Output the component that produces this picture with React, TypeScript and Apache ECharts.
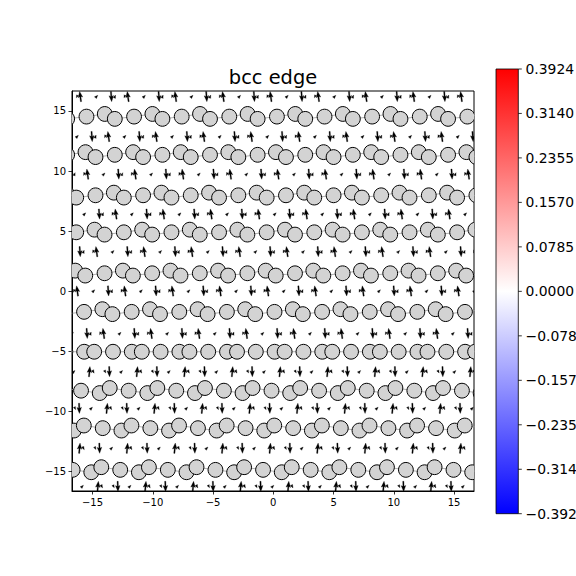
import React, { useEffect, useRef } from 'react';
import * as echarts from 'echarts';

// ---------- data ----------
const X_RANGE = [-16.7, 16.65];
const Y_RANGE = [-16.63, 16.66];
const AXIS_TICKS = [-15, -10, -5, 0, 5, 10, 15];
const TITLE = 'bcc edge';

// repeat distance of the atomic motif along x (lattice period)
const PERIOD = 3.95;

// atom rows: height of row, x of the lone ("single") atom of one motif, motif kind
const ROW_Y = [14.53, 11.35, 7.98, 4.9, 1.49, -1.72, -5.04, -8.28, -11.4, -14.87];
const ROW_X0 = [-7.6, -9.2, -10.8, -12.4, -14.0, -15.7, -13.3, -12.0, -10.2, -8.75];
const ROW_KIND = ['upper', 'upper', 'upper', 'upper', 'upper', 'upper', 'flat', 'lower', 'lower', 'lower'];
// basis of three atoms [dx, dy] per motif kind
const BASIS_UPPER = [[0, 0], [1.52, 0.22], [2.35, -0.19]];
const BASIS_FLAT = [[0, 0], [1.56, 0], [2.39, 0]];
const BASIS_LOWER = [[0, 0], [1.55, -0.2], [2.38, 0.22]];

// arrow rows (differential displacement vectors): height, x of the tiny arrow of one motif, motif kind
const ARROW_Y = [16.2, 12.87, 9.74, 6.42, 3.29, 0.02, -3.52, -6.7, -9.75, -13.07, -16.25];
const ARROW_X0 = [-6.76, -8.37, -10.11, -11.71, -13.31, -14.91, -8.78, -12.6, -11.15, -9.47, -7.95];
const ARROW_KIND = ['upper', 'upper', 'upper', 'upper', 'upper', 'upper', 'upper', 'lower', 'lower', 'lower', 'lower'];
// arrows of one motif: [dx, u, v]
const ARROWS_UPPER = [[0, 0.2, 0.2], [1.22, 0.06, -0.85], [1.52, 0.1, 0.25], [2.32, -0.1, -0.22], [2.6, -0.12, 0.85]];
const ARROWS_LOWER = [[0, 0.2, 0.2], [1.3, 0.08, 0.85], [1.62, 0.14, -0.24], [2.6, 0.12, -0.22], [2.95, 0.03, -0.85]];

// colour bar
const CB_TICKS = [0.3924, 0.314, 0.2355, 0.157, 0.0785, 0, -0.0785, -0.157, -0.2355, -0.314, -0.3924];
const CB_MIN = -0.3924;
const CB_MAX = 0.3924;

// ---------- build the lattice from rows + basis ----------
const BASIS: Record<string, number[][]> = { upper: BASIS_UPPER, flat: BASIS_FLAT, lower: BASIS_LOWER };
const ARROW_BASIS: Record<string, number[][]> = { upper: ARROWS_UPPER, lower: ARROWS_LOWER };

function cellRange(x0: number) {
  const k0 = Math.floor((X_RANGE[0] - 4 - x0) / PERIOD);
  const k1 = Math.ceil((X_RANGE[1] + 1 - x0) / PERIOD);
  return [k0, k1];
}

const atomRows: number[][][] = ROW_Y.map((y, i) => {
  const basis = BASIS[ROW_KIND[i]];
  const [k0, k1] = cellRange(ROW_X0[i]);
  const pts: number[][] = [];
  for (let k = k0; k <= k1; k++) {
    for (const [dx, dy] of basis) {
      const x = ROW_X0[i] + k * PERIOD + dx;
      if (x > X_RANGE[0] - 1.2 && x < X_RANGE[1] + 1.2) pts.push([x, y + dy]);
    }
  }
  return pts;
});

const arrowData: number[][] = [];
ARROW_Y.forEach((y, i) => {
  const basis = ARROW_BASIS[ARROW_KIND[i]];
  const [k0, k1] = cellRange(ARROW_X0[i]);
  for (let k = k0; k <= k1; k++) {
    for (const [dx, u, v] of basis) {
      const x = ARROW_X0[i] + k * PERIOD + dx;
      if (x > X_RANGE[0] - 0.5 && x < X_RANGE[1] + 0.5) arrowData.push([x, y, u, v]);
    }
  }
});

const fmtAxis = (v: number) => (v < 0 ? '\u2212' + Math.abs(v) : String(v));
const fmtCb = (v: number) => (v < 0 ? '\u2212' : '') + Math.abs(v).toFixed(4);

// ---------- layout ----------
const GRID = { left: 72, top: 91, width: 402, height: 400 };
const CB = { x: 496, y: 69, w: 22.3, h: 444.7 };
const FONT = 'DejaVu Sans';

function buildOption() {
  const lineSeries = atomRows.map((pts) => ({
    type: 'line',
    data: pts,
    symbol: 'none',
    silent: true,
    z: 1,
    clip: true,
    lineStyle: { color: '#9a9a9a', width: 0.8 },
  }));

  const atomSeries = {
    type: 'custom',
    z: 3,
    clip: true,
    silent: true,
    data: atomRows.flat(),
    renderItem: (_p: any, api: any) => {
      const c = api.coord([api.value(0), api.value(1)]);
      return {
        type: 'circle',
        shape: { cx: c[0], cy: c[1], r: 7.4 },
        style: { fill: '#d3d3d3', stroke: '#000', lineWidth: 1 },
      };
    },
  };

  const arrowSeries = {
    type: 'custom',
    z: 2,
    clip: true,
    silent: true,
    data: arrowData,
    renderItem: (_p: any, api: any) => {
      const c = api.coord([api.value(0), api.value(1)]);
      const s = api.size([1, 1]);
      const dx = api.value(2) * s[0];
      const dy = -api.value(3) * s[1];
      const L = Math.hypot(dx, dy);
      const ux = dx / L;
      const uy = dy / L;
      const nx = -uy;
      const ny = ux;
      let sw = 1.2;
      let hw = 4.6;
      let hl = 6;
      let hal = 5.2;
      if (L < hl) {
        const f = L / hl;
        sw *= f;
        hw *= f;
        hal *= f;
        hl = L;
      }
      const tx = c[0] - ux * L / 2;
      const ty = c[1] - uy * L / 2;
      const P = (a: number, b: number) => [tx + ux * a + nx * b, ty + uy * a + ny * b];
      const pts = [
        P(0, -sw / 2),
        P(L - hal, -sw / 2),
        P(L - hl, -hw / 2),
        P(L, 0),
        P(L - hl, hw / 2),
        P(L - hal, sw / 2),
        P(0, sw / 2),
      ];
      return { type: 'polygon', shape: { points: pts }, style: { fill: '#000', stroke: '#000', lineWidth: 0.3 } };
    },
  };

  const cbGraphics: any[] = [
    {
      type: 'rect',
      shape: { x: CB.x, y: CB.y, width: CB.w, height: CB.h },
      style: {
        fill: new echarts.graphic.LinearGradient(0, 0, 0, 1, [
          { offset: 0, color: '#ff0000' },
          { offset: 0.5, color: '#ffffff' },
          { offset: 1, color: '#0000ff' },
        ]),
        stroke: '#000',
        lineWidth: 0.8,
      },
    },
  ];
  CB_TICKS.forEach((v) => {
    const y = CB.y + ((CB_MAX - v) / (CB_MAX - CB_MIN)) * CB.h;
    cbGraphics.push({
      type: 'line',
      shape: { x1: CB.x + CB.w, y1: y, x2: CB.x + CB.w + 3.5, y2: y },
      style: { stroke: '#000', lineWidth: 0.8 },
    });
    cbGraphics.push({
      type: 'text',
      x: CB.x + CB.w + 7.2,
      y,
      style: { text: fmtCb(v), fontSize: 13.9, fontFamily: FONT, fill: '#000', align: 'left', verticalAlign: 'middle' },
    });
  });

  const axisCommon = {
    type: 'value',
    splitLine: { show: false },
    axisLine: { show: true, onZero: false, lineStyle: { color: '#000', width: 1 } },
    axisTick: { show: true, customValues: AXIS_TICKS, length: 3.5, lineStyle: { color: '#000', width: 0.8 } },
    axisLabel: { customValues: AXIS_TICKS, formatter: fmtAxis, fontSize: 10, fontFamily: FONT, color: '#000', margin: 6 },
  };

  return {
    animation: false,
    backgroundColor: '#fff',
    grid: { ...GRID, show: true, borderColor: '#000', borderWidth: 1, backgroundColor: 'transparent' },
    xAxis: { ...axisCommon, min: X_RANGE[0], max: X_RANGE[1] },
    yAxis: { ...axisCommon, min: Y_RANGE[0], max: Y_RANGE[1] },
    graphic: [
      {
        type: 'text',
        x: GRID.left + GRID.width / 2,
        y: 77,
        style: { text: TITLE, fontSize: 19.4, fontFamily: FONT, fill: '#000', align: 'center', verticalAlign: 'middle' },
      },
      ...cbGraphics,
    ],
    series: [...lineSeries, arrowSeries, atomSeries],
  };
}

export default function App() {
  const ref = useRef<HTMLDivElement>(null);
  useEffect(() => {
    if (!ref.current) return;
    const chart = echarts.init(ref.current, null, { renderer: 'svg' });
    chart.setOption(buildOption() as any);
    return () => chart.dispose();
  }, []);
  return (
    <div
      ref={ref}
      style={{ position: 'fixed', left: 0, top: 0, width: 576, height: 576, background: '#fff' }}
    />
  );
}
